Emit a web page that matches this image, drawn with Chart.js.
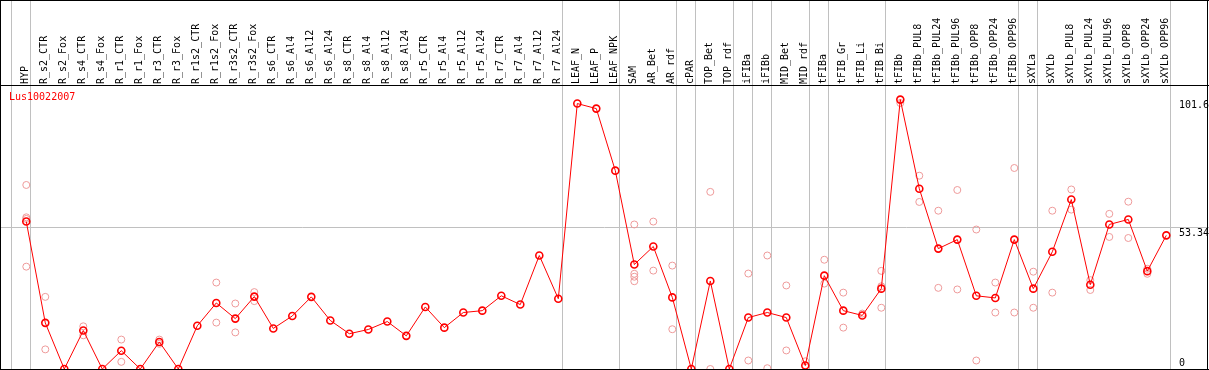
<!DOCTYPE html>
<html><head><meta charset="utf-8">
<script src="https://cdn.jsdelivr.net/npm/chart.js@4.4.1/dist/chart.umd.min.js"></script>
<style>html,body{margin:0;padding:0;background:#fff;overflow:hidden}canvas{display:block}</style>
</head><body>
<canvas id="c" width="1209" height="370"></canvas>
<script>
const seriesName = 'Lus10022007';
const categories = ['HYP','R_s2_CTR','R_s2_Fox','R_s4_CTR','R_s4_Fox','R_r1_CTR','R_r1_Fox','R_r3_CTR','R_r3_Fox',
  'R_r1s2_CTR','R_r1s2_Fox','R_r3s2_CTR','R_r3s2_Fox','R_s6_CTR','R_s6_Al4','R_s6_Al12','R_s6_Al24',
  'R_s8_CTR','R_s8_Al4','R_s8_Al12','R_s8_Al24','R_r5_CTR','R_r5_Al4','R_r5_Al12','R_r5_Al24',
  'R_r7_CTR','R_r7_Al4','R_r7_Al12','R_r7_Al24','LEAF_N','LEAF_P','LEAF_NPK','SAM','AR_Bet','AR_rdf',
  'cPAR','TOP_Bet','TOP_rdf','iFIBa','iFIBb','MID_Bet','MID_rdf','tFIBa','tFIB_Gr','tFIB_Li','tFIB_Bi',
  'tFIBb','tFIBb_PUL8','tFIBb_PUL24','tFIBb_PUL96','tFIBb_OPP8','tFIBb_OPP24','tFIBb_OPP96',
  'sXYLa','sXYLb','sXYLb_PUL8','sXYLb_PUL24','sXYLb_PUL96','sXYLb_OPP8','sXYLb_OPP24','sXYLb_OPP96'];
const meanValues = [55.6,17.4,0,14.5,0,6.9,0,10.2,0,
  16.3,24.9,19.0,27.3,15.3,20.0,27.2,18.3,
  13.3,14.9,17.9,12.5,23.4,15.6,21.3,22.0,
  27.6,24.3,42.8,26.5,100.1,98.2,74.8,39.4,46.2,27.0,
  0,33.2,0,19.4,21.3,19.4,1.3,35.2,22.0,20.2,30.3,
  101.6,68.0,45.4,48.8,27.6,26.8,48.8,
  30.3,44.2,63.9,31.8,54.5,56.4,36.9,50.4];
// replicate measurements: [category index, value]
const replicates = [
  [0,69.4],[0,57.2],[0,56.6],[0,38.6],[1,27.2],[1,7.4],[3,16.1],[3,12.7],[5,11.1],[5,2.7],
  [7,11.1],[7,9.5],[10,32.6],[10,17.5],[11,24.7],[11,13.8],[12,29.0],[12,25.6],
  [32,54.5],[32,35.9],[32,34.8],[32,33.1],[33,55.6],[33,37.1],[34,39.0],[34,15.0],
  [36,66.8],[36,0],[38,36.0],[38,3.2],[39,42.8],[39,0.3],[40,31.5],[40,7.0],[41,2.9],
  [42,41.2],[42,32.2],[43,28.8],[43,15.6],[44,20.9],[45,37.0],[45,31.2],[45,23.1],
  [46,100.3],[47,72.9],[47,63.0],[48,59.7],[48,30.6],[49,67.5],[49,30.0],[50,52.6],[50,3.2],
  [51,32.6],[51,21.3],[52,75.8],[52,21.3],[53,36.7],[53,23.1],[54,59.7],[54,28.8],
  [55,67.7],[55,60.1],[56,33.5],[56,29.8],[57,58.5],[57,49.8],[58,63.1],[58,49.4],[59,37.8],[59,35.9]
];
const yTickValues = [0, 53.34, 101.6];
const yTickLabels = ['0', '53.34', '101.6'];
// group separators follow these category indices
const groupEnds = [-1, 0, 28, 31, 34, 35, 37, 38, 39, 41, 42, 45, 52, 53, 60];

const FONT = 'DejaVu Sans Mono';

const framePlugin = {
  id: 'frame',
  beforeDatasetsDraw(chart) {
    const {ctx, chartArea: a, scales: {x, y}} = chart;
    ctx.save();
    ctx.strokeStyle = '#c0c0c0';
    ctx.lineWidth = 1;
    const gy = Math.floor(y.getPixelForValue(yTickValues[1])) + 0.5;
    ctx.beginPath(); ctx.moveTo(0, gy); ctx.lineTo(chart.width, gy); ctx.stroke();
    groupEnds.forEach(i => {
      const px = Math.floor(x.getPixelForValue(i + 0.23)) + 0.5;
      ctx.beginPath(); ctx.moveTo(px, 0); ctx.lineTo(px, a.bottom); ctx.stroke();
    });
    ctx.restore();
  },
  afterDatasetsDraw(chart) {
    const {ctx, chartArea: a, scales: {y}} = chart;
    ctx.save();
    ctx.fillStyle = '#000';
    ctx.fillRect(0, 0, chart.width, 1);
    ctx.fillRect(0, a.top, chart.width, 1);
    ctx.fillRect(0, a.bottom, chart.width, 1);
    ctx.fillRect(0, 0, 1, chart.height);
    ctx.fillRect(1207, 0, 1, chart.height);
    ctx.font = '10px "' + FONT + '"';
    ctx.textAlign = 'left';
    ctx.textBaseline = 'top';
    yTickValues.forEach((v, k) => {
      let py = y.getPixelForValue(v) + 1;
      py = Math.min(py, a.bottom - 11);
      ctx.fillText(yTickLabels[k], 1179, py);
    });
    ctx.fillStyle = '#ff0000';
    ctx.fillText(seriesName, 9, a.top + 7);
    ctx.restore();
  }
};

new Chart(document.getElementById('c'), {
  type: 'line',
  data: {
    datasets: [{
      label: seriesName,
      data: meanValues.map((v, i) => ({x: i, y: v})),
      borderColor: '#ff0000',
      borderWidth: 1,
      pointRadius: 3.5,
      pointBorderWidth: 1.6,
      pointBorderColor: '#ff0000',
      pointBackgroundColor: 'rgba(0,0,0,0)',
      tension: 0
    }, {
      label: 'replicates',
      data: replicates.map(r => ({x: r[0], y: r[1]})),
      showLine: false,
      pointRadius: 3.5,
      pointBorderWidth: 1,
      pointBorderColor: '#ee9a9a',
      pointBackgroundColor: 'rgba(0,0,0,0)'
    }]
  },
  options: {
    responsive: false,
    animation: false,
    devicePixelRatio: 1,
    events: [],
    layout: {autoPadding: false, padding: {top: 0, left: 0, right: 0, bottom: 1}},
    plugins: {legend: {display: false}, tooltip: {enabled: false}},
    scales: {
      x: {
        type: 'linear',
        position: 'top',
        min: -1.384,
        max: 62.247,
        grid: {display: false, drawTicks: false, tickLength: 0},
        border: {display: false},
        afterBuildTicks: s => { s.ticks = categories.map((c, i) => ({value: i})); },
        afterFit: s => { s.height = 85; s.paddingLeft = 0; s.paddingRight = 0; s.paddingTop = 0; s.paddingBottom = 0; },
        ticks: {
          autoSkip: false,
          minRotation: 90,
          maxRotation: 90,
          padding: 1,
          labelOffset: 11.5,
          color: '#000',
          font: {family: FONT, size: 10},
          callback: v => categories[v]
        }
      },
      y: {
        type: 'linear',
        display: false,
        min: 0,
        max: 107.1
      }
    }
  },
  plugins: [framePlugin]
});
</script>
</body></html>
